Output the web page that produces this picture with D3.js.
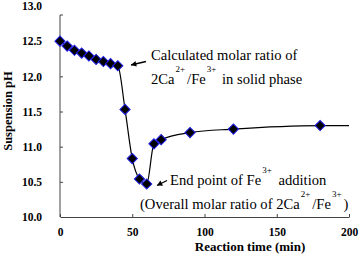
<!DOCTYPE html>
<html>
<head>
<meta charset="utf-8">
<script src="https://cdn.jsdelivr.net/npm/d3@7"></script>
<style>
  body { margin: 0; background: #fff; }
  svg text { font-family: "Liberation Serif", "DejaVu Serif", serif; }
  .axis text { font-family: "Liberation Serif", serif; font-weight: bold; font-size: 11.5px; fill: #000; }
  .axis path, .axis line { stroke: #444; }
</style>
</head>
<body>
<div id="chart"></div>
<script>
// data
let times = [0, 5, 10, 15, 20, 25, 30, 35, 40, 45, 50, 55, 60, 65, 70, 90, 120, 180];
let phValues = [12.5, 12.43, 12.37, 12.33, 12.29, 12.24, 12.21, 12.18, 12.15, 11.53, 10.83, 10.54, 10.47, 11.04, 11.1, 11.2, 11.25, 11.3];
// drawn line runs on past the last point to the end of the axis
let lineEndTime = 200;
let lineEndPH = 11.3;
let xTicks = [0, 50, 100, 150, 200];
let yTicks = [10.0, 10.5, 11.0, 11.5, 12.0, 12.5, 13.0];

let width = 360;
let height = 258;

let svg = d3.select("#chart")
    .append("svg")
    .attr("width", width)
    .attr("height", height);

let xScale = d3.scaleLinear()
    .domain([0, 200])
    .range([60, 349]);

let yScale = d3.scaleLinear()
    .domain([10, 13])
    .range([217, 6]);

// x-axis
let xAxis = d3.axisBottom(xScale)
    .tickValues(xTicks)
    .tickSizeInner(-3)
    .tickSizeOuter(0)
    .tickPadding(8);

svg.append("g")
    .attr("class", "axis")
    .attr("transform", "translate(0," + yScale(10) + ")")
    .call(xAxis)
    .selectAll("text")
    .attr("dy", "0.95em");

// y-axis (labels only, line drawn below)
let yAxis = d3.axisLeft(yScale)
    .tickValues(yTicks)
    .tickFormat(d3.format(".1f"))
    .tickSize(0)
    .tickPadding(18);

let yG = svg.append("g")
    .attr("class", "axis")
    .attr("transform", "translate(" + xScale(0) + ",0)")
    .call(yAxis);
yG.select(".domain").remove();

// the axis line itself stops a little below the 13.0 label
yG.append("path")
    .attr("d", "M3,15H0V" + yScale(10))
    .attr("fill", "none")
    .attr("stroke", "#444");

yG.selectAll(".tick")
    .filter((d) => d > 10 && d < 13)
    .append("line")
    .attr("x2", 3)
    .attr("stroke", "#444");

// axis labels
svg.append("text")
    .attr("x", 250)
    .attr("y", 251)
    .attr("text-anchor", "middle")
    .attr("font-weight", "bold")
    .attr("font-size", "13px")
    .text("Reaction time (min)");

svg.append("text")
    .attr("text-anchor", "middle")
    .attr("font-weight", "bold")
    .attr("font-size", "12.5px")
    .attr("transform", "translate(12,111) rotate(-90)")
    .text("Suspension pH");

// line
let lineData = times.map((t, i) => ({ t: t, v: phValues[i] }));
let pathData = lineData.concat([{ t: lineEndTime, v: lineEndPH }]);

let line = d3.line()
    .x((d) => xScale(d.t))
    .y((d) => yScale(d.v))
    .curve(d3.curveMonotoneX);

svg.append("path")
    .attr("d", line(pathData))
    .attr("fill", "none")
    .attr("stroke", "#000")
    .attr("stroke-width", 1.2);

// diamonds
svg.selectAll(".pt")
    .data(lineData)
    .enter()
    .append("path")
    .attr("class", "pt")
    .attr("d", d3.symbol(d3.symbolSquare, 52))
    .attr("transform", (d) => "translate(" + xScale(d.t) + "," + yScale(d.v) + ") rotate(45)")
    .attr("fill", "#000")
    .attr("stroke", "#1e1ee6")
    .attr("stroke-width", 1);

// annotations
let note = svg.append("g").attr("font-size", "14.6px").attr("fill", "#000");

function arrow(x1, y1, x2, y2) {
    let ang = Math.atan2(y2 - y1, x2 - x1);
    let len = 6, spread = 0.5;
    note.append("line")
        .attr("x1", x1).attr("y1", y1)
        .attr("x2", x2).attr("y2", y2)
        .attr("stroke", "#000")
        .attr("stroke-width", 1.3);
    let p = [
        [x2, y2],
        [x2 - len * Math.cos(ang - spread), y2 - len * Math.sin(ang - spread)],
        [x2 - len * Math.cos(ang + spread), y2 - len * Math.sin(ang + spread)]
    ];
    note.append("path")
        .attr("d", "M" + p.join("L") + "Z")
        .attr("fill", "#000");
}

function supText(x, y, parts) {
    let t = note.append("text").attr("x", x).attr("y", y);
    parts.forEach((p) => {
        let s = t.append("tspan").text(p.s);
        if (p.sup) {
            s.attr("font-size", "9px").attr("dy", -12).attr("dx", p.dx || 0);
        } else if (p.back) {
            s.attr("dy", 12).attr("dx", p.dx || 0);
        }
    });
}

note.append("text").attr("x", 151).attr("y", 60).text("Calculated molar ratio of");
supText(151, 84, [
    { s: "2Ca" },
    { s: "2+", sup: true, dx: 1 },
    { s: "/Fe", back: true, dx: 2 },
    { s: "3+", sup: true, dx: 1 },
    { s: " in solid phase", back: true, dx: 2 }
]);
arrow(146, 61.5, 131, 65);

supText(170, 185, [
    { s: "End point of Fe" },
    { s: "3+", sup: true, dx: 1 },
    { s: " addition", back: true, dx: 3 }
]);
supText(140, 209, [
    { s: "(Overall  molar ratio of 2Ca" },
    { s: "2+", sup: true, dx: 1 },
    { s: "/Fe", back: true, dx: 2 },
    { s: "3+", sup: true, dx: 1 },
    { s: ")", back: true, dx: 2 }
]);
arrow(167, 180.5, 157, 185.5);
</script>
</body>
</html>
